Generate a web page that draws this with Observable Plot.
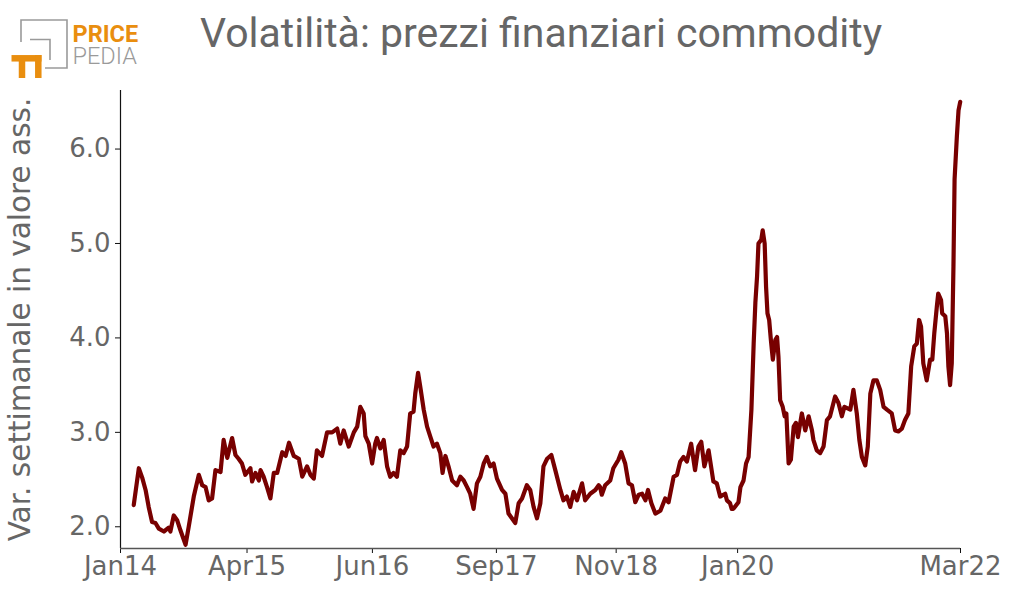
<!DOCTYPE html>
<html><head><meta charset="utf-8">
<script src="https://cdn.jsdelivr.net/npm/d3@7"></script>
<script src="https://cdn.jsdelivr.net/npm/@observablehq/plot@0.6"></script>
<style>
body{margin:0;background:#fff;}
#wrap{position:relative;width:1023px;height:608px;overflow:hidden;}
#head{position:absolute;left:0;top:0;}
</style></head><body>
<div id="wrap">
<svg id="head" width="1023" height="90">
  <path d="M21 42 V20 H67 V68 H45" fill="none" stroke="#9a9a9a" stroke-width="1.6"/>
  <path d="M30 39.5 H50 V60" fill="none" stroke="#9a9a9a" stroke-width="1.6"/>
  <path d="M11.5 58.3 H41.5" fill="none" stroke="#E98E0F" stroke-width="6.5"/>
  <path d="M38.3 55 V78" fill="none" stroke="#E98E0F" stroke-width="6.5"/>
  <path d="M22 61 V78" fill="none" stroke="#E98E0F" stroke-width="6.5"/>
  <text x="72.5" y="41.5" font-family="Roboto" font-weight="bold" font-size="23.5" fill="#E98E0F">PRICE</text>
  <text x="72.5" y="63.5" font-family="Roboto" font-weight="300" font-size="23.5" fill="#9a9a9a">PEDIA</text>
  <text x="200" y="47" font-family="Roboto" font-size="41" fill="#666">Volatilità: prezzi finanziari commodity</text>
</svg>
</div>
<script>
const dates = [
"2014-02-17","2014-03-07","2014-03-19","2014-03-31","2014-04-11","2014-04-23","2014-05-05","2014-05-17","2014-06-04","2014-06-21","2014-06-27","2014-07-09","2014-07-21","2014-08-02","2014-08-20","2014-08-31","2014-09-18","2014-10-06","2014-10-18","2014-10-30","2014-11-10","2014-11-22","2014-12-04","2014-12-22",
"2015-01-02","2015-01-15","2015-02-01","2015-02-13","2015-02-24","2015-03-08","2015-03-20","2015-04-07","2015-04-13","2015-04-25","2015-05-07","2015-05-13","2015-05-24","2015-06-05","2015-06-17","2015-06-29","2015-07-11","2015-07-29","2015-08-10","2015-08-22","2015-09-08","2015-09-26","2015-10-08","2015-10-25","2015-11-06","2015-11-18","2015-11-29","2015-12-17",
"2016-01-04","2016-01-22","2016-02-09","2016-02-20","2016-03-03","2016-03-21","2016-04-08","2016-04-20","2016-05-01","2016-05-13","2016-05-19","2016-05-31","2016-06-12","2016-06-23","2016-06-29","2016-07-11","2016-07-23","2016-08-04","2016-08-15","2016-08-27","2016-09-08","2016-09-20","2016-10-02","2016-10-14","2016-10-25","2016-11-06","2016-11-12","2016-11-22","2016-11-30","2016-12-12","2016-12-24",
"2017-01-05","2017-01-16","2017-01-28","2017-02-09","2017-02-17","2017-02-27","2017-03-10","2017-03-23","2017-04-09","2017-04-21","2017-05-03","2017-05-15","2017-05-26","2017-06-07","2017-06-19","2017-07-01","2017-07-13","2017-07-24","2017-08-05","2017-08-17","2017-08-29","2017-09-16","2017-09-28","2017-10-09","2017-10-21","2017-11-02","2017-11-14","2017-11-26","2017-12-13","2017-12-25",
"2018-01-06","2018-01-18","2018-01-30","2018-02-10","2018-02-23","2018-03-10","2018-03-24","2018-04-11","2018-04-22","2018-05-04","2018-05-16","2018-05-28","2018-06-09","2018-06-27","2018-07-08","2018-07-26","2018-08-13","2018-08-25","2018-08-30","2018-09-05","2018-09-17","2018-10-05","2018-10-16","2018-11-03","2018-11-13","2018-11-27","2018-12-09","2018-12-21",
"2019-01-02","2019-01-14","2019-01-26","2019-02-07","2019-02-16","2019-02-28","2019-03-14","2019-04-01","2019-04-18","2019-04-30","2019-05-18","2019-05-30","2019-06-10","2019-06-22","2019-07-04","2019-07-19","2019-08-02","2019-08-14","2019-08-24","2019-09-04","2019-09-19","2019-10-06","2019-10-18","2019-10-30","2019-11-17","2019-11-23","2019-12-04","2019-12-10","2019-12-16",
"2020-01-03","2020-01-10","2020-01-21","2020-01-30","2020-02-08","2020-02-18","2020-02-26","2020-03-03","2020-03-09","2020-03-14","2020-03-24","2020-03-29","2020-04-05","2020-04-10","2020-04-15","2020-04-21","2020-04-27","2020-05-04","2020-05-13","2020-05-19","2020-05-24","2020-05-30","2020-06-08","2020-06-15","2020-06-21","2020-06-29","2020-07-07","2020-07-17","2020-07-25","2020-08-01","2020-08-15","2020-08-27","2020-09-08","2020-09-20","2020-09-25","2020-10-07","2020-10-19","2020-10-31","2020-11-12","2020-11-23","2020-12-11","2020-12-23",
"2021-01-04","2021-01-13","2021-02-03","2021-02-14","2021-02-26","2021-03-07","2021-03-16","2021-03-28","2021-04-06","2021-04-15","2021-04-26","2021-05-08","2021-05-20","2021-06-01","2021-06-13","2021-06-30","2021-07-12","2021-07-24","2021-08-05","2021-08-16","2021-08-28","2021-09-07","2021-09-18","2021-09-27","2021-10-05","2021-10-12","2021-10-20","2021-11-01","2021-11-13","2021-11-21","2021-11-28","2021-12-07","2021-12-12","2021-12-22","2021-12-26",
"2022-01-06","2022-01-12","2022-01-17","2022-01-23","2022-01-29","2022-02-04","2022-02-08","2022-02-16","2022-02-22","2022-02-28"
];
const values = [
2.23,2.62,2.52,2.39,2.21,2.05,2.04,1.98,1.95,1.99,1.95,2.12,2.07,1.96,1.81,2.00,2.32,2.55,2.44,2.42,2.28,2.30,2.60,2.58,
2.92,2.73,2.94,2.76,2.72,2.67,2.55,2.62,2.48,2.57,2.49,2.60,2.53,2.42,2.30,2.57,2.57,2.79,2.75,2.89,2.75,2.72,2.53,2.64,2.55,2.51,2.81,2.75,
3.00,3.00,3.04,2.88,3.02,2.85,3.00,3.06,3.27,3.20,2.96,2.88,2.67,2.88,2.94,2.83,2.92,2.64,2.53,2.57,2.53,2.81,2.78,2.85,3.20,3.22,3.41,3.63,3.48,3.24,3.06,
2.95,2.85,2.88,2.78,2.57,2.75,2.64,2.49,2.44,2.53,2.49,2.42,2.35,2.19,2.46,2.53,2.67,2.74,2.64,2.67,2.51,2.39,2.35,2.14,2.09,2.04,2.25,2.30,2.44,2.39,
2.21,2.09,2.25,2.64,2.72,2.76,2.60,2.39,2.28,2.32,2.21,2.37,2.28,2.46,2.28,2.35,2.39,2.44,2.42,2.34,2.44,2.49,2.62,2.71,2.79,2.67,2.46,2.44,
2.26,2.34,2.35,2.28,2.39,2.25,2.14,2.17,2.30,2.26,2.53,2.55,2.69,2.74,2.69,2.88,2.60,2.85,2.90,2.64,2.81,2.48,2.46,2.32,2.35,2.28,2.25,2.19,2.19,
2.26,2.42,2.49,2.67,2.74,3.24,3.94,4.37,4.65,5.00,5.04,5.14,5.00,4.54,4.26,4.19,3.98,3.77,3.98,4.01,3.80,3.34,3.27,3.17,3.20,2.67,2.71,3.06,3.10,2.95,3.20,3.02,3.17,3.02,2.92,2.81,2.78,2.85,3.13,3.17,3.38,3.31,
3.17,3.27,3.24,3.45,3.20,2.92,2.74,2.65,2.85,3.41,3.55,3.55,3.45,3.27,3.24,3.20,3.02,3.01,3.04,3.13,3.20,3.70,3.91,3.94,4.19,4.12,3.73,3.55,3.77,3.77,4.05,4.33,4.47,4.40,4.26,
4.23,4.05,3.70,3.50,3.73,4.76,5.68,6.13,6.41,6.50
];
const tickDates = ["2014-01-01","2015-03-26","2016-06-13","2017-08-27","2018-10-26","2019-12-31","2022-03-01"];
const tickLabels = ["Jan14","Apr15","Jun16","Sep17","Nov18","Jan20","Mar22"];
const yTicks = [2, 3, 4, 5, 6];
const xDomain = ["2014-01-01", "2022-03-01"];
const yDomain = [1.77, 6.62];
const yTitle = "Var. settimanale in valore ass.";

const parse = d3.utcParse("%Y-%m-%d");
const data = dates.map((d, i) => ({date: parse(d), value: values[i]}));
const ticks = tickDates.map(parse);
const labelOf = new Map(ticks.map((t, i) => [+t, tickLabels[i]]));

const chart = Plot.plot({
  width: 1023, height: 608,
  marginLeft: 120, marginRight: 63, marginTop: 90, marginBottom: 60,
  style: {fontFamily: "DejaVu Sans", fontSize: "26px", color: "#666", background: "transparent", overflow: "visible"},
  x: {type: "utc", domain: xDomain.map(parse)},
  y: {domain: yDomain},
  marks: [
    Plot.axisY({ticks: yTicks, tickFormat: d3.format(".1f"), tickSize: 5, tickPadding: 5, stroke: "#111", fill: "#666", fontSize: 26, label: null}),
    Plot.axisX({ticks: ticks, tickFormat: d => labelOf.get(+d), tickSize: 5, tickPadding: 3, stroke: "#111", fill: "#666", fontSize: 26, label: null}),
    Plot.ruleX([xDomain[0]].map(parse), {stroke: "#111", strokeWidth: 1.2}),
    Plot.ruleY([yDomain[0]], {stroke: "#555", strokeWidth: 1.5}),
    Plot.line(data, {x: "date", y: "value", stroke: "#780000", strokeWidth: 4.2, strokeLinejoin: "round"}),
    Plot.text([yTitle], {frameAnchor: "left", textAnchor: "middle", lineAnchor: "middle", dx: -100, rotate: -90, fontSize: 29.5, fill: "#666", fontFamily: "DejaVu Sans"})
  ]
});
chart.style.position = "absolute";
chart.style.left = "0";
chart.style.top = "0";
document.getElementById("wrap").prepend(chart);
</script>
</body></html>
